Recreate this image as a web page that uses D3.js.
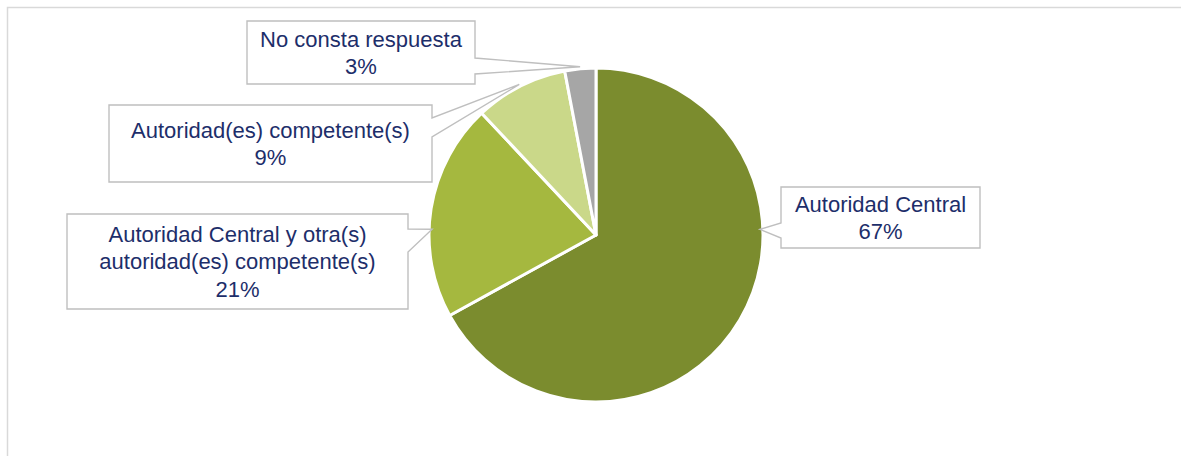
<!DOCTYPE html>
<html><head><meta charset="utf-8">
<script src="https://cdn.jsdelivr.net/npm/d3@7"></script>
<style>html,body{margin:0;padding:0;background:#fff;} svg{display:block;}</style>
</head><body><svg id="chart" width="1181" height="456"></svg>
<script>
// ---- data ----
const categories = [
  "Autoridad Central",
  "Autoridad Central y otra(s) autoridad(es) competente(s)",
  "Autoridad(es) competente(s)",
  "No consta respuesta"
];
const values = [67, 21, 9, 3];
const colors = ["#7B8C2E", "#A5B83F", "#CAD889", "#A6A6A6"];

// ---- layout ----
const W = 1181, H = 456;
const cx = 596, cy = 235, R = 167;
const labelLayout = [
  {x: 781, y: 187, w: 199, h: 61, side: "left",  a1: 223, a2: 238, tipDeg: 88,  tipR: 164},
  {x: 67,  y: 214, w: 341, h: 95, side: "right", a1: 229, a2: 252, tipDeg: -88, tipR: 164},
  {x: 109, y: 105, w: 323, h: 77, side: "right", a1: 118, a2: 137, tipDeg: null, tipR: 169},
  {x: 247, y: 21,  w: 228, h: 63, side: "right", a1: 58,  a2: 74,  tipDeg: null, tipR: 169}
];
const fontSize = 22, lineH = 27.8;
const textColor = "#1D2E6A";

const svg = d3.select("#chart");

// chart area border
svg.append("rect")
  .attr("x", 7.5).attr("y", 7.5)
  .attr("width", W + 50).attr("height", H + 50)
  .attr("fill", "#fff").attr("stroke", "#D9D9D9").attr("stroke-width", 1.5);

const total = d3.sum(values);
const pie = d3.pie().sort(null).value(d => d);
const arcs = pie(values);
const arc = d3.arc().innerRadius(0).outerRadius(R);

const g = svg.append("g").attr("transform", `translate(${cx},${cy})`);
g.selectAll("path.slice").data(arcs).join("path")
  .attr("class", "slice")
  .attr("d", arc)
  .attr("fill", (d, i) => colors[i])
  .attr("stroke", "#fff").attr("stroke-width", 3).attr("stroke-linejoin", "round");

const fmt = d3.format(".0%");

arcs.forEach((a, i) => {
  const L = labelLayout[i];
  const ang = L.tipDeg == null ? (a.startAngle + a.endAngle) / 2 : L.tipDeg * Math.PI / 180;
  const tx = cx + L.tipR * Math.sin(ang), ty = cy - L.tipR * Math.cos(ang);
  const x0 = L.x, x1 = L.x + L.w, y0 = L.y, y1 = L.y + L.h;
  let p;
  if (L.side === "right") {
    p = `M${x0},${y0}H${x1}V${L.a1}L${tx},${ty}L${x1},${L.a2}V${y1}H${x0}Z`;
  } else {
    p = `M${x0},${y0}H${x1}V${y1}H${x0}V${L.a2}L${tx},${ty}L${x0},${L.a1}Z`;
  }
  svg.append("path").attr("d", p)
    .attr("fill", "#fff").attr("stroke", "#BFBFBF").attr("stroke-width", 1.4)
    .attr("stroke-linejoin", "miter");

  const text = svg.append("text")
    .attr("font-family", "'Liberation Sans', Arial, sans-serif")
    .attr("font-size", fontSize)
    .attr("fill", textColor)
    .attr("text-anchor", "middle");

  // word wrap category name
  const maxW = L.w - 16;
  const words = categories[i].split(" ");
  const lines = [];
  let cur = [];
  const probe = text.append("tspan");
  words.forEach(wd => {
    const test = cur.concat([wd]).join(" ");
    probe.text(test);
    if (probe.node().getComputedTextLength() > maxW && cur.length) {
      lines.push(cur.join(" "));
      cur = [wd];
    } else cur.push(wd);
  });
  if (cur.length) lines.push(cur.join(" "));
  probe.remove();
  lines.push(fmt(values[i] / total));

  const n = lines.length;
  const midX = L.x + L.w / 2, midY = L.y + L.h / 2;
  lines.forEach((ln, k) => {
    text.append("tspan")
      .attr("x", midX)
      .attr("y", midY + (k - (n - 1) / 2) * lineH)
      .attr("dy", "0.36em")
      .text(ln);
  });
});
</script>
</body></html>
